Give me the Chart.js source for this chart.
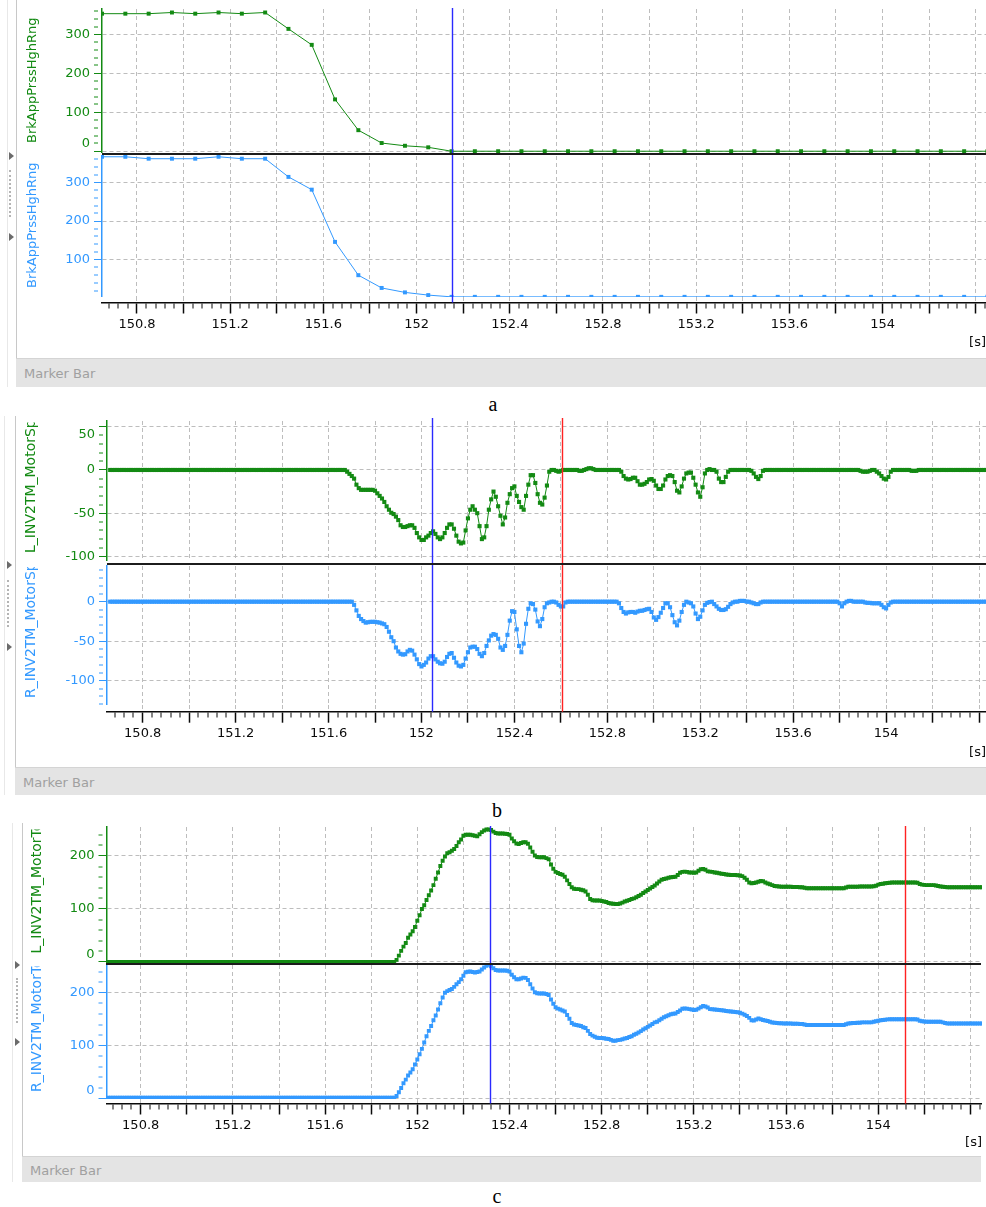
<!DOCTYPE html>
<html>
<head>
<meta charset="utf-8">
<title>Signal traces</title>
<script src="https://cdn.jsdelivr.net/npm/chart.js@4.4.1/dist/chart.umd.min.js"></script>
<style>
  html, body { margin:0; padding:0; background:#fff; }
  body { width:986px; height:1207px; position:relative; overflow:hidden; font-family:"DejaVu Sans", sans-serif; }
  canvas { position:absolute; left:0; }
  .vl { position:absolute; width:1px; }
  .sep { position:absolute; height:2px; background:#1c1c1c; z-index:5; }
  .mbar { position:absolute; background:#e4e4e4; border-top:1px solid #d4d4d4; box-sizing:border-box; color:#a0a0a0; font-size:13px; }
  .mbar span { position:absolute; top:50%; transform:translateY(-50%); }
  .tri { position:absolute; width:0; height:0; border-top:4px solid transparent; border-bottom:4px solid transparent; border-left:5px solid #6b6b6b; }
  .grip { position:absolute; width:0; border-left:2px dotted #b4b4b4; }
  .cap { position:absolute; font-family:"Liberation Serif", "Times New Roman", serif; font-size:20px; line-height:20px; color:#000; transform:translate(-50%,-50%); }
</style>
</head>
<body>
<script>
// ---------------- DATA ----------------
// panel a : sampled every 0.1 s starting at 150.65 s
const T0_A = 150.65, DT_A = 0.1;
const brkPrsL = [353,353,353,356,353,356,353,356,314,273,133,54,21,14,10,0,
  0,0,0,0,0,0,0,0,0,0,0,0,0,0,0,0,0,0,0,0,0,0,0];
const brkPrsR = [366,366,361,361,361,366,361,361,314,281,146,60,27,15.5,8.5,4,
  4,4,4,4,4,4,4,4,4,4,4,4,4,4,4,4,4,4,4,4,4,4,4];

// panels b and c : sampled every 0.01 s starting at 150.66 s
const T0 = 150.66, DT = 0.01;
const spdL = [
0,0,0,0,0,0,0,0,0,0, 0,0,0,0,0,0,0,0,0,0, 0,0,0,0,0,0,0,0,0,0, 0,0,0,0,0,0,0,0,0,0,
0,0,0,0,0,0,0,0,0,0, 0,0,0,0,0,0,0,0,0,0, 0,0,0,0,0,0,0,0,0,0, 0,0,0,0,0,0,0,0,0,0,
0,0,0,0,0,0,0,0,0,0, 0,0,0,0,0,0,0,0,0,0,
0,0,-2,-4.5,-7,-10,-17,-21,-23,-23,
-23,-23,-23,-23,-24,-27,-30,-33,-37,-42,
-46,-49.5,-51,-54,-58,-64,-66,-66,-65,-64,
-64,-67,-73,-78,-81,-81,-78,-76,-73,-71,
-74,-78,-80,-78,-73,-67,-63,-63,-68,-76,
-83,-85,-84,-70,-56,-46,-42,-46,-50,-65,
-80,-78,-65,-46,-34,-25,-31,-42,-53,-63,
-55,-38,-28,-21,-19,-30,-37,-43,-46,-30,
-17,-6,-6,-15,-28,-38,-40,-32,-18,-2,
0,0,-1,-2,-1,0,0,0,0,0,
0,0,-1,-1,0,1,2,2,1,0,
0,0,0,0,0,0,0,0,0,0,
-2,-7,-10,-11,-10.5,-9,-9,-13,-17,-17,
-16,-14,-11,-10.5,-12.5,-18,-22,-22,-18,-11,
-7,-6,-7,-14,-24,-26,-19,-10,-4,-3,
-3,-9,-17,-26,-31,-20,-4,0,1,0,
0,-2,-10,-14,-14,-8,-2,0,0,0,
0,0,0,0,0,0,-1,-4,-8,-10.5,
-7,-1,0,0,0,0,0,0,0,0,
0,0,0,0,0,0,0,0,0,0,
0,0,0,0,0,0,0,0,0,0,
0,0,0,0,0,0,0,0,0,0,
0,0,0,-1,-2,-2,-2,-1,0,0,
-2,-4,-7,-10,-11,-8,-2,0,0,0,
0,0,0,0,0,-1,-1,-1,0,0,
0,0,0,0,0,0,0,0,0,0,
0,0,0,0,0,0,0,0,0,0,
0,0,0,0,0,0,0,0,0,0];
const spdR = [
0,0,0,0,0,0,0,0,0,0, 0,0,0,0,0,0,0,0,0,0, 0,0,0,0,0,0,0,0,0,0, 0,0,0,0,0,0,0,0,0,0,
0,0,0,0,0,0,0,0,0,0, 0,0,0,0,0,0,0,0,0,0, 0,0,0,0,0,0,0,0,0,0, 0,0,0,0,0,0,0,0,0,0,
0,0,0,0,0,0,0,0,0,0, 0,0,0,0,0,0,0,0,0,0,
0,0,0,0,0,-4,-11,-18,-22,-24.5,
-26.5,-26,-25.5,-25.5,-25.5,-26,-26.5,-27.5,-28.5,-32,
-38,-45,-50,-58,-63,-66,-67,-66.5,-63,-61,
-62,-67,-73,-79,-82,-80,-77,-72,-69,-69,
-73,-76,-78,-78.5,-76,-70,-66,-65,-71,-77,
-81,-82,-80,-72,-64,-58,-57,-57,-60,-66,
-69,-65,-56,-49,-43,-41,-42,-47,-58,-61,
-56,-42,-24,-12,-13,-35,-56,-64,-53,-28,
-9,-2,-3,-10,-25,-31,-22,-7,-2,-1,
0,0,-1,-4,-6,-6,-1,0,0,0,
0,0,0,0,0,0,0,0,0,0,
0,0,0,0,0,0,0,0,0,-2,
-8,-13,-15,-13.5,-13,-13,-14,-12.5,-11.5,-11.5,
-10.5,-9.5,-9,-13,-20,-23,-19.5,-14,-8,-2,
-2,-7,-17,-26,-30,-24,-13,-4,0,-1,
-2,-6,-15,-22,-19,-11,-4,-1.5,-0.5,0,
-3,-6,-9,-10.5,-10.5,-9.5,-6.5,-3,-1,0,
0,1,1,1,0,0,-1,-2,-3,-3,
-1,0,0,0,0,0,0,0,0,0,
0,0,0,0,0,0,0,0,0,0,
0,0,0,0,0,0,0,0,0,0,
0,0,0,0,-2,-6,-2,0,1,1,
0,0,0,0,0,-1,-1.5,-1.5,-2,-2,
-2,-2,-4,-7,-8.5,-4,-1,0,0,0,
0,0,0,0,0,0,0,0,0,0,
0,0,0,0,0,0,0,0,0,0,
0,0,0,0,0,0,0,0,0,0,
0,0,0,0,0,0,0,0,0,0];
const trqL = [
0,0,0,0,0,0,0,0,0,0, 0,0,0,0,0,0,0,0,0,0, 0,0,0,0,0,0,0,0,0,0, 0,0,0,0,0,0,0,0,0,0,
0,0,0,0,0,0,0,0,0,0, 0,0,0,0,0,0,0,0,0,0, 0,0,0,0,0,0,0,0,0,0, 0,0,0,0,0,0,0,0,0,0,
0,0,0,0,0,0,0,0,0,0, 0,0,0,0,0,0,0,0,0,0, 0,0,0,0,0,0,0,0,0,0, 0,0,0,0,0,0,0,0,0,0,
0,0,0,0,0,4,12,21,29,36,
45.6,52,58,66,78,88,100,107,117,126,
135,145,157,169,181,191,199,205,207,210,
213,219,226,231,238,240,240,240,239,238,
237,241,245,248,250,250,249,246,243.5,242.5,
242.5,242.5,242,241.5,240,233,228,223.5,222.5,224.5,
226,226,223,216,208,201,198,197.5,197.5,197.5,
196,194,184,176,170,168,166,164.5,161,154,
147,141,138,137.5,137.5,136.5,135.5,133,127,119,
116.5,116,116,116,115,114,113,111.5,110.5,110,
109.5,109.5,110.5,112,114,115.5,117,119,120,122,
124.5,127,130,133,136,138.5,141.5,144.5,148,152,
155,156.5,157.5,159,160,160.5,161,164,168.5,170,
170.5,170,169,169,168.5,169,172,175,175.5,174,
171,170.5,170,169,168.5,167.5,166.5,166,165,164.5,
164,164,164,163.5,163,162,159,155,150,148.5,
149,150,151.5,153,152.5,150,148,146.5,145,143.5,
143,142.5,142,142,142,142,142,141.5,141.5,141.5,
141,141,140,139,139,139,139,139,139,139,
139,139,139,139,139,139,139,139,139,139,
140.5,142,142,142,142,142,142.5,142.5,142.5,142.5,
142.5,142.5,143,144,146,147,147.5,148.5,149,149.5,
150,150,150,150,150,150,150,150,150,150,
150,149.5,147,146,145.5,145,145,145,145,144.5,
143.5,142.5,142,141.5,141,141,141,141,141,141,
141,141,141,141,141,141,141,141,141,141];
const trqR = [
2,2,2,2,2,2,2,2,2,2, 2,2,2,2,2,2,2,2,2,2, 2,2,2,2,2,2,2,2,2,2, 2,2,2,2,2,2,2,2,2,2,
2,2,2,2,2,2,2,2,2,2, 2,2,2,2,2,2,2,2,2,2, 2,2,2,2,2,2,2,2,2,2, 2,2,2,2,2,2,2,2,2,2,
2,2,2,2,2,2,2,2,2,2, 2,2,2,2,2,2,2,2,2,2, 2,2,2,2,2,2,2,2,2,2, 2,2,2,2,2,2,2,2,2,2,
2,2,2,2,2,5,12,20,29,36,
43.7,49.5,55.5,64.5,74,84,94,106,118,128,
137,148,157,168.5,180,191,200,203,205,207,
211,216,220,225.5,232,238.5,239.5,240,239,238,
239,240,244,247.5,251,252.5,250,246,243,242,
241.8,241.8,241.8,241.5,240,234,229,225.5,225.5,227,
228.5,228,224,216,208,201,199,198.7,198.7,198.7,
197.5,195.6,187,179,172.5,170,168.4,166.5,164.5,158,
151,143,140,139,138,137,135,133.5,128,122,
119,117,115,114.7,114.5,114,113,112.7,111,109.5,
109.5,110.5,111,112,113.5,114.5,116.5,118,120.5,122.5,
125,127.5,130.5,133,135.5,138,141,144,145,148,
151,153.5,155.5,157.5,159.5,160.2,160.8,163.5,166.5,169.6,
170.2,170,169,168.2,167.5,168,170,172.5,175,174,
172,169,168.6,168.2,168,167.5,167,166.5,165.6,165,
164.6,164,163.5,163,162,160.5,158.5,156,152.5,148,
147.5,149.5,151.5,150,148.5,147.5,146.5,145,143.8,143.2,
142.8,142.5,142.2,142,142,142,142,141.5,141.5,141.5,
141,141,140,139,139,139,139,139,139,139,
139,139,139,139,139,139,139,139,139,139,
140.5,142,142.5,143,143,143.5,143.5,144,144,144,
144,144,145,146,147,148,148.5,149,149.7,150,
150,150,150,150,150,150,150,150,150,150,
150,149.5,147,146,145.5,145,145,145,145,145,
145,145,144,143,142,142,142,142,142,142,
142,142,142,142,142,142,142,142,142,142];

// tick labels
const xLabels = ['150.8','151.2','151.6','152','152.4','152.8','153.2','153.6','154'];
const yLabelsA1 = ['0','100','200','300'];
const yLabelsA2 = ['100','200','300'];
const yLabelsB1 = ['50','0','-50','-100'];
const yLabelsB2 = ['0','-50','-100'];
const yLabelsC = ['0','100','200'];

// cursors (time in s)
const cursorsA = [{t:152.152, color:'#2a2aff'}];
const cursorsB = [{t:152.045, color:'#2a2aff'}, {t:152.604, color:'#ff2222'}];
const cursorsC = [{t:152.315, color:'#2a2aff'}, {t:154.117, color:'#ff2222'}];

// ---------------- STYLE ----------------
const GREEN = '#138a13';
const BLUE = '#3399ff';
const GRID = '#bdbdbd';
const INK = '#0a0a0a';
const FONT = 'DejaVu Sans';

const cursorPlugin = {
  id: 'cursors',
  afterDatasetsDraw(chart, args, o) {
    const xs = chart.scales.x, ctx = chart.ctx;
    const bottom = o.toArea ? chart.chartArea.bottom : chart.height;
    (o.lines || []).forEach(l => {
      const px = Math.round(xs.getPixelForValue(l.t)) + 0.5;
      ctx.save();
      ctx.strokeStyle = l.color; ctx.lineWidth = 1.4;
      ctx.beginPath(); ctx.moveTo(px, 0); ctx.lineTo(px, bottom); ctx.stroke();
      ctx.restore();
    });
  }
};

// vertical signal name, starting near the bottom of the y axis, clipped to the axis height
const sigTitlePlugin = {
  id: 'sigTitle',
  afterDraw(chart, args, o) {
    if (!o.text) return;
    const ca = chart.chartArea, ctx = chart.ctx;
    ctx.save();
    ctx.beginPath();
    ctx.rect(0, ca.top + o.clipTop, ca.left, ca.bottom - ca.top - o.clipTop);
    ctx.clip();
    ctx.translate(o.x, ca.bottom - o.offset);
    ctx.rotate(-Math.PI / 2);
    ctx.font = o.size + 'px "' + FONT + '"';
    ctx.fillStyle = o.color;
    ctx.textAlign = 'left';
    ctx.textBaseline = 'middle';
    ctx.fillText(o.text, 0, 0);
    ctx.restore();
  }
};

function isMajorX(v) { return Math.round(v * 100) % 20 === 0; }
function fmtX(v) { return String(Math.round(v * 100) / 100); }
function xTickValues(min, max) {
  const a = [];
  for (let k = Math.ceil(min / 0.04 - 1e-6); k * 0.04 <= max + 1e-6; k++) a.push(Math.round(k * 4) / 100);
  return a;
}

function xScaleCfg(p, kind) {
  const maj = c => !!(c.tick && isMajorX(c.tick.value));
  const cfg = {
    type: 'linear', min: p.xmin, max: p.xmax, position: 'bottom',
    afterBuildTicks: s => { s.ticks = xTickValues(p.xmin, p.xmax).map(v => ({value: v})); },
    grid: { color: GRID, lineWidth: c => maj(c) ? 1 : 0, drawOnChartArea: true },
    border: { dash: c => maj(c) ? [4, 3] : [] }
  };
  if (kind === 'axis') {
    cfg.afterFit = s => { s.height = p.axisH; s.paddingLeft = 0; s.paddingRight = 0; };
    cfg.ticks = { autoSkip: false, maxRotation: 0, minRotation: 0, padding: 3.5, color: INK,
      font: {family: FONT, size: 13},
      callback: v => { const s = fmtX(v); return xLabels.includes(s) ? s : ''; } };
    cfg.grid.drawTicks = true;
    cfg.grid.tickLength = 11;
    cfg.grid.tickColor = INK;
    cfg.grid.tickWidth = c => maj(c) ? 1.5 : 1;
    cfg.grid.tickBorderDash = c => maj(c) ? [] : [5, 100];
    cfg.border.display = true; cfg.border.color = INK; cfg.border.width = 1.5;
    cfg.title = { display: true, text: '[s]', align: 'end', color: INK, font: {family: FONT, size: 13},
      padding: {top: 0, bottom: p.sPad} };
  } else {
    cfg.afterFit = s => { s.height = 0; s.paddingLeft = 0; s.paddingRight = 0; };
    cfg.ticks = { display: false, autoSkip: false };
    cfg.grid.drawTicks = false;
    cfg.border.display = false;
  }
  return cfg;
}

function yScaleCfg(s) {
  const isMaj = v => Math.round(v) % s.major === 0;
  const maj = c => !!(c.tick && isMaj(c.tick.value));
  return {
    type: 'linear', min: s.ymin, max: s.ymax, position: 'left',
    afterBuildTicks: sc => {
      const a = [];
      for (let k = Math.ceil(s.ymin / s.minor); k * s.minor <= s.ymax; k++) a.push(k * s.minor);
      sc.ticks = a.map(v => ({value: v}));
    },
    afterFit: sc => { sc.width = s.L; sc.paddingTop = 0; sc.paddingBottom = 0; },
    ticks: { autoSkip: false, padding: 4, color: s.color, font: {family: FONT, size: 13},
      callback: v => {
        const t = String(v);
        if (!s.labels.includes(t)) return '';
        if (s.up && s.up.includes(t)) return [t, ''];
        if (s.down && s.down.includes(t)) return ['', t];
        return t;
      } },
    grid: { color: GRID, lineWidth: c => maj(c) ? 1 : 0, drawTicks: true, tickLength: 8,
      tickColor: s.color, tickWidth: 1, tickBorderDash: c => maj(c) ? [] : [4, 100] },
    border: { display: true, color: s.color, width: 1.5, dash: c => maj(c) ? [4, 3] : [] },
    title: { display: false }
  };
}

function series(values, t0, dt, color, r) {
  return {
    data: values.map((v, i) => ({x: Math.round((t0 + i * dt) * 1000) / 1000, y: v})),
    borderColor: color, backgroundColor: color, pointBackgroundColor: color,
    borderWidth: 1, pointStyle: 'rect', pointRadius: r, pointBorderWidth: 0,
    tension: 0, fill: false, clip: {left: 0, right: 4, top: 4, bottom: 4}
  };
}

function addCanvas(top, w, h) {
  const c = document.createElement('canvas');
  c.width = w; c.height = h;
  c.style.top = top + 'px'; c.style.width = w + 'px'; c.style.height = h + 'px';
  document.body.appendChild(c);
  return c;
}

function makeChart(canvas, cfg) {
  return new Chart(canvas, {
    type: 'line',
    data: { datasets: cfg.datasets || [] },
    options: {
      responsive: false, animation: false, events: [],
      layout: { autoPadding: false, padding: {left: cfg.padLeft || 0, right: 0, top: cfg.padTop || 0, bottom: cfg.padBottom || 0} },
      scales: cfg.scales,
      plugins: { legend: {display: false}, tooltip: {enabled: false},
        cursors: {lines: cfg.cursors, toArea: !!cfg.toArea},
        sigTitle: cfg.title || {} }
    },
    plugins: [cursorPlugin, sigTitlePlugin]
  });
}

function buildPanel(p) {
  makeChart(addCanvas(p.top1, p.W, p.h1), {
    padTop: p.pt1, padBottom: p.pb1, cursors: p.cursors,
    datasets: [series(p.d1, p.t0, p.dt, GREEN, p.r)],
    scales: { x: xScaleCfg(p, 'sub'), y: yScaleCfg(Object.assign({L: p.L, color: GREEN}, p.y1)) },
    title: Object.assign({color: GREEN}, p.t1)
  });
  makeChart(addCanvas(p.top2, p.W, p.h2), {
    padTop: p.pt2, padBottom: 0, cursors: p.cursors,
    datasets: [series(p.d2, p.t0, p.dt, BLUE, p.r)],
    scales: { x: xScaleCfg(p, 'sub'), y: yScaleCfg(Object.assign({L: p.L, color: BLUE}, p.y2)) },
    title: Object.assign({color: BLUE}, p.t2)
  });
  makeChart(addCanvas(p.top3, p.W, p.h3), {
    padLeft: p.L, cursors: p.cursors, toArea: true,
    scales: { x: xScaleCfg(p, 'axis'), y: {display: false, min: 0, max: 1} }
  });
}

// ---------------- PANELS ----------------
buildPanel({
  W: 986, L: 102, xmin: 150.6498, xmax: 154.4438, t0: T0_A, dt: DT_A, r: 2.8,
  d1: brkPrsL, d2: brkPrsR, cursors: cursorsA,
  top1: 8, h1: 146, pt1: 1, pb1: 2,
  top2: 154, h2: 143, pt2: 2,
  top3: 297, h3: 56, axisH: 50.5, sPad: 2.2,
  y1: {ymin: -2, ymax: 365, minor: 20, major: 100, labels: yLabelsA1, up: ['0']},
  y2: {ymin: 3.6, ymax: 368, minor: 20, major: 100, labels: yLabelsA2},
  t1: {text: 'BrkAppPrssHghRng', x: 33, offset: 9, size: 13, clipTop: 0},
  t2: {text: 'BrkAppPrssHghRng', x: 33, offset: 9, size: 13, clipTop: 0}
});
buildPanel({
  W: 986, L: 107, xmin: 150.6463, xmax: 154.430, t0: T0, dt: DT, r: 2.9,
  d1: spdL, d2: spdR, cursors: cursorsB,
  top1: 418, h1: 146, pt1: 3, pb1: 4,
  top2: 564, h2: 141, pt2: 2,
  top3: 705, h3: 57, axisH: 50.3, sPad: 1.2,
  y1: {ymin: -104.2, ymax: 56.7, minor: 10, major: 50, labels: yLabelsB1, down: ['50']},
  y2: {ymin: -130.8, ymax: 45.2, minor: 10, major: 50, labels: yLabelsB2},
  t1: {text: 'L_INV2TM_MotorSpd', x: 31.5, offset: 7, size: 14, clipTop: 1.5},
  t2: {text: 'R_INV2TM_MotorSpd', x: 31.5, offset: 7, size: 14, clipTop: 1}
});
buildPanel({
  W: 982, L: 106.5, xmin: 150.6516, xmax: 154.45, t0: T0, dt: DT, r: 2.8,
  d1: trqL, d2: trqR, cursors: cursorsC,
  top1: 826, h1: 138, pt1: 1, pb1: 1,
  top2: 964, h2: 135, pt2: 1,
  top3: 1099, h3: 52, axisH: 47.5, sPad: 0.5,
  y1: {ymin: -1.9, ymax: 254.7, minor: 20, major: 100, labels: yLabelsC, up: ['0']},
  y2: {ymin: -0.6, ymax: 252.3, minor: 20, major: 100, labels: yLabelsC, up: ['0']},
  t1: {text: 'L_INV2TM_MotorTorq', x: 37.5, offset: 9.5, size: 14, clipTop: 2.5},
  t2: {text: 'R_INV2TM_MotorTorq', x: 37.5, offset: 7, size: 14, clipTop: 1.5}
});

// ---------------- WINDOW CHROME ----------------
function div(cls, css, text) {
  const d = document.createElement('div');
  d.className = cls;
  Object.assign(d.style, css);
  if (text) { const s = document.createElement('span'); s.textContent = text; s.style.left = '8px'; d.appendChild(s); }
  document.body.appendChild(d);
  return d;
}
function chrome(c) {
  div('vl', {left: c.l1 + 'px', top: c.top + 'px', height: (c.bot - c.top) + 'px', background: '#e8e8e8'});
  div('vl', {left: c.l2 + 'px', top: c.top + 'px', height: (c.bot - c.top) + 'px', background: '#c8c8c8'});
  c.tris.forEach(y => div('tri', {left: c.tx + 'px', top: (y - 4) + 'px'}));
  div('grip', {left: c.gx + 'px', top: c.g0 + 'px', height: (c.g1 - c.g0) + 'px'});
  div('mbar', {left: c.l2 + 'px', top: c.mTop + 'px', width: (c.right - c.l2) + 'px', height: c.mH + 'px'}, 'Marker Bar');
  div('sep', {left: c.sepL + 'px', top: c.sepT + 'px', width: (c.right - c.sepL) + 'px'});
  const cap = div('cap', {left: c.capX + 'px', top: c.capY + 'px'});
  cap.textContent = c.cap;
}
chrome({top: 0, bot: 387, l1: 7, l2: 16, tris: [156, 237], tx: 9, gx: 9, g0: 170, g1: 217,
  mTop: 358, mH: 29, right: 986, sepL: 102, sepT: 153, cap: 'a', capX: 493, capY: 404});
chrome({top: 416, bot: 795, l1: 4, l2: 15, tris: [565, 647], tx: 7, gx: 7, g0: 580, g1: 627,
  mTop: 767, mH: 28, right: 986, sepL: 107, sepT: 563, cap: 'b', capX: 497, capY: 810});
chrome({top: 823, bot: 1182, l1: 12, l2: 22, tris: [965, 1042], tx: 15, gx: 16, g0: 978, g1: 1023,
  mTop: 1156, mH: 26, right: 981, sepL: 106, sepT: 963, cap: 'c', capX: 497, capY: 1196});
</script>
</body>
</html>
